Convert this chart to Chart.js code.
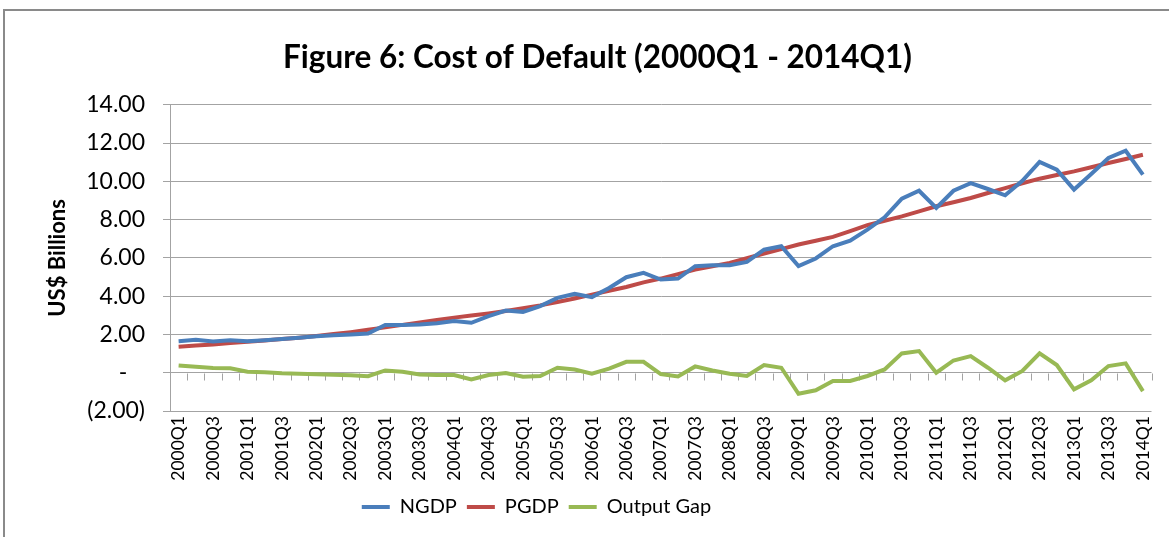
<!DOCTYPE html>
<html>
<head>
<meta charset="utf-8">
<script src="https://cdn.jsdelivr.net/npm/chart.js@4.4.0/dist/chart.umd.min.js"></script>
<style>
  body { margin: 0; background: #fff; }
  #wrap { width: 1169px; height: 537px; }
</style>
</head>
<body>
<div id="wrap"><canvas id="myChart"></canvas></div>
<script>
// quarters 2000Q1 .. 2014Q1
var years = [2000, 2001, 2002, 2003, 2004, 2005, 2006, 2007, 2008, 2009, 2010, 2011, 2012, 2013, 2014]
var quarters = ['Q1', 'Q2', 'Q3', 'Q4']
var labels = []
for (let y = 0; y < years.length; y++) {
    for (let q = 0; q < quarters.length; q++) {
        if (years[y] === 2014 && q > 0) { break }
        labels.push(years[y] + quarters[q])
    }
}

var ngdp = [1.65, 1.72, 1.63, 1.70, 1.65, 1.70, 1.76, 1.83, 1.90, 1.96, 2.00, 2.05,
            2.49, 2.49, 2.52, 2.59, 2.70, 2.61, 2.96, 3.25, 3.18, 3.48, 3.91, 4.12,
            3.95, 4.43, 4.99, 5.22, 4.87, 4.92, 5.57, 5.62, 5.62, 5.79, 6.43, 6.61,
            5.57, 5.97, 6.61, 6.90, 7.48, 8.12, 9.10, 9.51, 8.61, 9.51, 9.91, 9.60,
            9.27, 10.03, 11.01, 10.61, 9.57, 10.38, 11.22, 11.60, 10.35]

var pgdp = [1.36, 1.42, 1.48, 1.55, 1.62, 1.69, 1.76, 1.83, 1.92, 2.02, 2.12, 2.24,
            2.37, 2.50, 2.62, 2.75, 2.88, 2.99, 3.10, 3.23, 3.37, 3.52, 3.70, 3.88,
            4.08, 4.28, 4.48, 4.72, 4.92, 5.15, 5.39, 5.56, 5.74, 5.98, 6.23, 6.46,
            6.70, 6.90, 7.10, 7.40, 7.71, 7.94, 8.17, 8.43, 8.70, 8.91, 9.13, 9.39,
            9.65, 9.90, 10.14, 10.33, 10.52, 10.74, 10.96, 11.17, 11.39]

var outputgap = [0.38, 0.31, 0.25, 0.23, 0.05, 0.03, -0.03, -0.05, -0.08, -0.10, -0.13, -0.18,
                 0.12, 0.05, -0.09, -0.12, -0.12, -0.35, -0.12, -0.02, -0.21, -0.17, 0.26, 0.17,
                 -0.05, 0.21, 0.57, 0.57, -0.07, -0.19, 0.33, 0.12, -0.05, -0.17, 0.40, 0.26,
                 -1.10, -0.92, -0.43, -0.43, -0.17, 0.17, 1.01, 1.13, 0.00, 0.64, 0.87, 0.26,
                 -0.40, 0.09, 1.01, 0.40, -0.87, -0.40, 0.35, 0.49, -0.96]

const gridcolor = '#a3a3a3'

// outer frame of the excel chart object
const framePlugin = {
    id: 'frame',
    beforeDraw: chart => {
        let ctx = chart.ctx
        ctx.save()
        ctx.fillStyle = '#fff'
        ctx.fillRect(0, 0, chart.width, chart.height)
        ctx.strokeStyle = '#8a8a8a'
        ctx.lineWidth = 2
        ctx.beginPath()
        ctx.moveTo(4, chart.height)
        ctx.lineTo(4, 10)
        ctx.lineTo(chart.width, 10)
        ctx.stroke()
        ctx.restore()
    },
    // legend sits left of the middle, title a bit right of it, like the original
    afterLayout: chart => {
        chart.legend.right -= 84
        chart.titleBlock.left += 38
    }
}

// category tick marks hanging below the zero line
const zeroTicks = {
    id: 'zeroTicks',
    beforeDatasetsDraw: chart => {
        let x = chart.scales.x
        let y0 = Math.round(chart.scales.y.getPixelForValue(0)) + 0.5
        let ctx = chart.ctx
        ctx.save()
        ctx.strokeStyle = gridcolor
        ctx.lineWidth = 1
        ctx.beginPath()
        for (let i = 0; i <= labels.length; i++) {
            let px = Math.round(x.getPixelForValue(i - 0.5)) + 0.5
            ctx.moveTo(px, y0)
            ctx.lineTo(px, y0 + 7)
        }
        ctx.stroke()
        ctx.restore()
    }
}

new Chart(document.getElementById('myChart'), {
    type: 'line',
    data: {
        labels: labels,
        datasets: [{
            label: 'NGDP',
            data: ngdp,
            borderColor: '#4a7ebb',
            backgroundColor: '#4a7ebb',
            borderWidth: 4,
            pointRadius: 0,
            tension: 0
        }, {
            label: 'PGDP',
            data: pgdp,
            borderColor: '#be4b48',
            backgroundColor: '#be4b48',
            borderWidth: 4,
            pointRadius: 0,
            tension: 0
        }, {
            label: 'Output Gap',
            data: outputgap,
            borderColor: '#98b954',
            backgroundColor: '#98b954',
            borderWidth: 4,
            pointRadius: 0,
            tension: 0
        }]
    },
    options: {
        responsive: true,
        maintainAspectRatio: false,
        animation: false,
        layout: {
            padding: { left: 0, right: 12, top: 12, bottom: 10 }
        },
        scales: {
            x: {
                offset: true,
                grid: { display: false, drawTicks: false },
                border: { display: false },
                ticks: {
                    autoSkip: false,
                    minRotation: 90,
                    maxRotation: 90,
                    padding: 5,
                    color: '#000',
                    font: { family: 'Lato', size: 17.5 },
                    callback: function (value, index) {
                        return index % 2 === 0 ? labels[index] : ''
                    }
                },
                afterFit: function (scale) { scale.height = 76 }
            },
            y: {
                min: -2,
                max: 14,
                ticks: {
                    stepSize: 2,
                    padding: 18,
                    color: '#000',
                    font: { family: 'Lato', size: 23 },
                    callback: function (value) {
                        if (value === 0) { return '-   ' }
                        if (value < 0) { return '(' + Math.abs(value).toFixed(2) + ')' }
                        return value.toFixed(2)
                    }
                },
                grid: { color: gridcolor, tickLength: 7 },
                border: { display: true, color: gridcolor },
                title: {
                    display: true,
                    text: 'US$ Billions',
                    color: '#000',
                    font: { family: 'Lato', size: 22, weight: 'bold' },
                    padding: { top: 45, bottom: 0 }
                },
                afterFit: function (scale) { scale.width = 170 }
            }
        },
        plugins: {
            title: {
                display: true,
                text: 'Figure 6: Cost of Default (2000Q1 - 2014Q1)',
                color: '#000',
                font: { family: 'Lato', size: 31.5, weight: 'bold' },
                padding: { top: 27, bottom: 28 }
            },
            legend: {
                position: 'bottom',
                labels: {
                    usePointStyle: true,
                    pointStyle: 'line',
                    pointStyleWidth: 28,
                    padding: 10,
                    color: '#000',
                    font: { family: 'Lato', size: 20 }
                }
            },
            tooltip: { enabled: false }
        }
    },
    plugins: [framePlugin, zeroTicks]
});
</script>
</body>
</html>
